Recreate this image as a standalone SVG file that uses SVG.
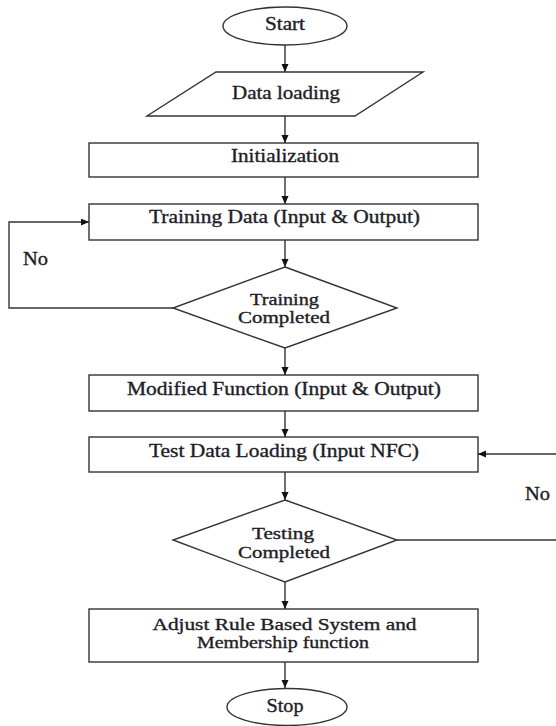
<svg xmlns="http://www.w3.org/2000/svg" width="556" height="726" viewBox="0 0 556 726">
<style>
.shape{fill:#fff;stroke:#333;stroke-width:1.4}
.conn{fill:none;stroke:#333;stroke-width:1.4}
text{font-family:"Liberation Serif","Times New Roman",serif;font-size:18px;fill:#1e1e28;stroke:#1e1e28;stroke-width:0.35;text-anchor:middle}
text.two{font-size:16.5px}
</style>
<defs>
<marker id="arr" markerUnits="userSpaceOnUse" markerWidth="9" markerHeight="8" refX="8" refY="3.5" orient="auto">
<path d="M0,0 L8,3.5 L0,7 z" fill="#111"/>
</marker>
</defs>
<rect width="556" height="726" fill="#fff"/>
<g id="connectors">
<line class="conn" x1="285" y1="45" x2="285" y2="72" marker-end="url(#arr)"/>
<line class="conn" x1="285" y1="116" x2="285" y2="143" marker-end="url(#arr)"/>
<line class="conn" x1="285" y1="177" x2="285" y2="204" marker-end="url(#arr)"/>
<line class="conn" x1="285" y1="240" x2="285" y2="267" marker-end="url(#arr)"/>
<line class="conn" x1="285" y1="348" x2="285" y2="375" marker-end="url(#arr)"/>
<line class="conn" x1="285" y1="411" x2="285" y2="437" marker-end="url(#arr)"/>
<line class="conn" x1="285" y1="472" x2="285" y2="500" marker-end="url(#arr)"/>
<line class="conn" x1="285" y1="582" x2="285" y2="609" marker-end="url(#arr)"/>
<line class="conn" x1="285" y1="662" x2="285" y2="688" marker-end="url(#arr)"/>
<path class="conn" d="M173,308 H9 V222 H89" marker-end="url(#arr)"/>
<path class="conn" d="M397,540 H558 V454 H478" marker-end="url(#arr)"/>
<text x="35.5" y="265" textLength="25" lengthAdjust="spacingAndGlyphs">No</text>
<text x="537.5" y="500" textLength="25" lengthAdjust="spacingAndGlyphs">No</text>
</g>
<g id="start">
<ellipse class="shape" cx="285" cy="26" rx="62" ry="19"/>
<text x="285" y="30" textLength="40" lengthAdjust="spacingAndGlyphs">Start</text>
</g>
<g id="data-loading">
<polygon class="shape" points="216,72 423,72 355,116 147,116"/>
<text x="286" y="99" textLength="108" lengthAdjust="spacingAndGlyphs">Data loading</text>
</g>
<g id="initialization">
<rect class="shape" x="89" y="143" width="389" height="34"/>
<text x="285" y="161.5" textLength="108" lengthAdjust="spacingAndGlyphs">Initialization</text>
</g>
<g id="training-data">
<rect class="shape" x="89" y="204" width="389" height="36"/>
<text x="284.5" y="223" textLength="271" lengthAdjust="spacingAndGlyphs">Training Data (Input &amp; Output)</text>
</g>
<g id="training-completed">
<polygon class="shape" points="285,267 397,308 285,348 173,308"/>
<text class="two" x="284.5" y="304.5" textLength="69" lengthAdjust="spacingAndGlyphs">Training</text>
<text class="two" x="284" y="323" textLength="92" lengthAdjust="spacingAndGlyphs">Completed</text>
</g>
<g id="modified-function">
<rect class="shape" x="89" y="375" width="389" height="36"/>
<text x="284" y="395" textLength="314" lengthAdjust="spacingAndGlyphs">Modified Function (Input &amp; Output)</text>
</g>
<g id="test-data-loading">
<rect class="shape" x="89" y="437" width="389" height="35"/>
<text x="284" y="457" textLength="270" lengthAdjust="spacingAndGlyphs">Test Data Loading (Input NFC)</text>
</g>
<g id="testing-completed">
<polygon class="shape" points="285,500 397,540 285,582 173,540"/>
<text class="two" x="283" y="539" textLength="62" lengthAdjust="spacingAndGlyphs">Testing</text>
<text class="two" x="284" y="557.5" textLength="92" lengthAdjust="spacingAndGlyphs">Completed</text>
</g>
<g id="adjust-rule">
<rect class="shape" x="89" y="609" width="389" height="53"/>
<text class="two" x="284.5" y="629.5" textLength="264" lengthAdjust="spacingAndGlyphs">Adjust Rule Based System and</text>
<text class="two" x="283" y="648" textLength="172" lengthAdjust="spacingAndGlyphs">Membership function</text>
</g>
<g id="stop">
<ellipse class="shape" cx="287" cy="707" rx="60" ry="18.5"/>
<text x="285" y="711.5" textLength="37" lengthAdjust="spacingAndGlyphs">Stop</text>
</g>
</svg>
